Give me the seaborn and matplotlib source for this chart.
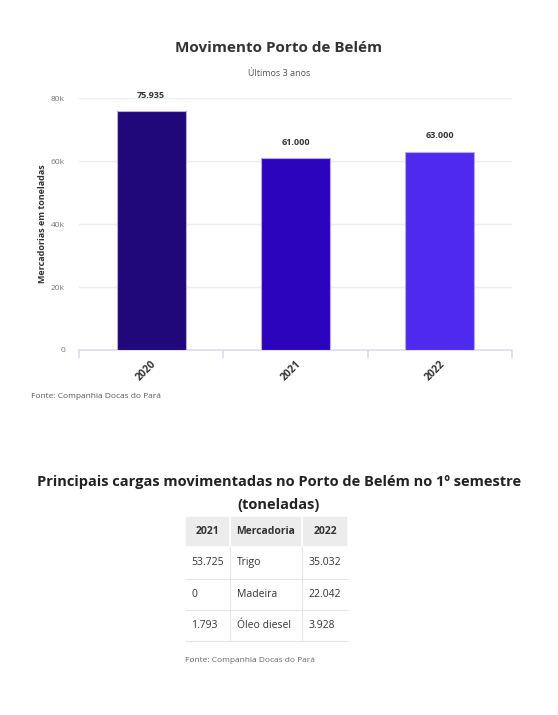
import pandas as pd
import seaborn as sns
import matplotlib.pyplot as plt

# data
anos = ['2020', '2021', '2022']
toneladas = [75935, 61000, 63000]
rotulos = ['75.935', '61.000', '63.000']
cores = ['#20077a', '#2d04be', '#4e2aee']

tab_header = ['2021', 'Mercadoria', '2022']
tab_2021 = ['53.725', '0', '1.793']
tab_merc = ['Trigo', 'Madeira', 'Óleo diesel']
tab_2022 = ['35.032', '22.042', '3.928']

sns.set_theme(style='white')
plt.rcParams['font.family'] = ['Open Sans', 'DejaVu Sans']

df = pd.DataFrame({'ano': anos, 'ton': toneladas})

fig = plt.figure(figsize=(5.58, 7.15), dpi=100)
ax = fig.add_axes([0.1416, 0.5105, 0.776, 0.3524])

sns.barplot(data=df, x='ano', y='ton', hue='ano', palette=cores, width=0.48, saturation=1,
            edgecolor='#b9a9f5', linewidth=0.8, legend=False, ax=ax, zorder=3)
ax.set_xlim(-0.5, 2.5)
ax.set_ylim(0, 80000)
ax.set_yticks([0, 20000, 40000, 60000, 80000])
ax.set_yticklabels(['0', '20k', '40k', '60k', '80k'], fontsize=6, color='#777777')
ax.yaxis.grid(True, color='#eeeeee', linewidth=1, zorder=0)
ax.tick_params(axis='y', length=0, pad=10)
for s in ['top', 'right', 'left']:
    ax.spines[s].set_visible(False)
ax.spines['bottom'].set_color('#dcdcf0')
ax.spines['bottom'].set_linewidth(1.2)

# category boundary ticks
ax.set_xticks([-0.5, 0.5, 1.5, 2.5], minor=True)
ax.tick_params(axis='x', which='minor', length=6, color='#dcdcf0', width=1.2, bottom=True)
ax.tick_params(axis='x', which='major', length=0, pad=6)
ax.set_xticks(range(len(anos)))
ax.set_xticklabels(anos, rotation=45, ha='right', rotation_mode='anchor',
                   fontsize=7.5, fontweight='bold', color='#333333')
ax.set_xlabel('')
ax.set_ylabel('Mercadorias em toneladas', fontsize=6.5, fontweight='bold', color='#333333', labelpad=2)
ax.yaxis.set_label_coords(-0.075, 0.5)

for i, (v, r) in enumerate(zip(toneladas, rotulos)):
    ax.annotate(r, (i, v), xytext=(0, 8), textcoords='offset points', ha='center',
                va='bottom', fontsize=6.5, fontweight='bold', color='#333333')

fig.text(0.5, 1 - 48 / 715, 'Movimento Porto de Belém', ha='center', va='center',
         fontsize=11, fontweight='bold', color='#333333')
fig.text(0.5, 1 - 73 / 715, 'Últimos 3 anos', ha='center', va='center',
         fontsize=6.5, color='#555555')
fig.text(31 / 558, 1 - 397 / 715, 'Fonte: Companhia Docas do Pará', ha='left', va='center',
         fontsize=6, color='#555555')

# table
fig.text(0.5, 1 - 482 / 715, 'Principais cargas movimentadas no Porto de Belém no 1º semestre',
         ha='center', va='center', fontsize=10.5, fontweight='bold', color='#222222')
fig.text(0.5, 1 - 505 / 715, '(toneladas)', ha='center', va='center',
         fontsize=10.5, fontweight='bold', color='#222222')

tax = fig.add_axes([185 / 558, 1 - 641 / 715, 163 / 558, 125 / 715])
tax.axis('off')
linhas = [list(t) for t in zip(tab_2021, tab_merc, tab_2022)]
tabela = tax.table(cellText=linhas, colLabels=tab_header, cellLoc='left',
                   colWidths=[0.276, 0.442, 0.282], bbox=[0, 0, 1, 1])
tabela.auto_set_font_size(False)
for (r, c), cell in tabela.get_celld().items():
    cell.set_edgecolor('#e4e4e4')
    cell.set_linewidth(0.8)
    cell.visible_edges = 'B' if c == 2 else 'BR'
    cell.PAD = 0.14 if c != 1 else 0.1
    txt = cell.get_text()
    txt.set_fontsize(7.5)
    txt.set_color('#333333')
    if r == 0:
        cell.visible_edges = 'closed'
        cell.set_facecolor('#ececec')
        cell.set_edgecolor('#ffffff')
        cell.set_linewidth(1.2)
        txt.set_fontweight('bold')

fig.text(185 / 558, 1 - 661 / 715, 'Fonte: Companhia Docas do Pará', ha='left', va='center',
         fontsize=6, color='#666666')

fig.savefig('out.png', dpi=100)
